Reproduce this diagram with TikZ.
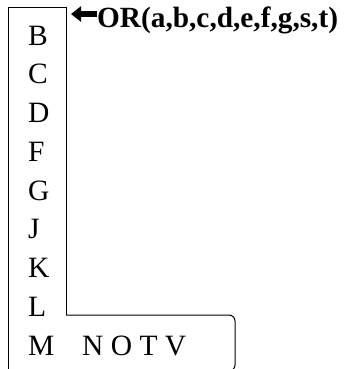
\documentclass[tikz,border=0pt]{standalone}
\usepackage{fontspec}
\setmainfont{Liberation Serif}
\usetikzlibrary{arrows.meta}
\begin{document}
\begin{tikzpicture}[x=1bp,y=-1bp,
  letter/.style={anchor=base west,inner sep=0pt,font=\fontsize{29.5bp}{35bp}\selectfont},
  title/.style={anchor=base west,inner sep=0pt,font=\fontsize{29.3bp}{35bp}\selectfont\bfseries},
  frame/.style={line width=1bp,black},
  fatarrow/.style={line width=6bp,-{Triangle[length=10bp,width=15bp]}}]
\clip (0,0) rectangle (344,369);
\useasboundingbox (0,0) rectangle (344,369);
% frame
\draw[frame] (8.5,372) -- (8.5,7) -- (66,7) -- (66,315);
\draw[frame,rounded corners=6bp] (66,315) -- (235,315) -- (235,371) -- (200,371);
% letters
\foreach \l [count=\i from 0] in {B,C,D,F,G,J,K,L,M}{
  \node[letter] (l\l) at (28,{45+38.75*\i}) {\l};
}
\node[letter] (notv) at (82,355) {N O T V};
\node[title] (or) at (97,27) {OR(a,b,c,d,e,f,g,s,t)};
\coordinate (tip) at (71,14);
\draw[fatarrow] (or.west |- tip) -- (tip);
\end{tikzpicture}
\end{document}
